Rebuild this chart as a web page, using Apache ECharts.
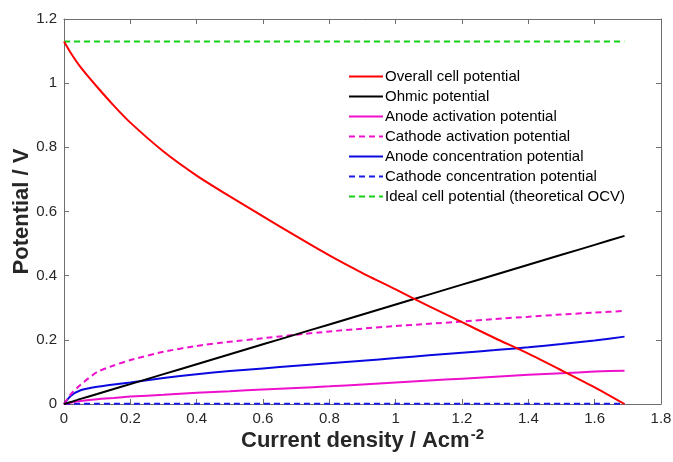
<!DOCTYPE html>
<html>
<head>
<meta charset="utf-8">
<script src="https://cdn.jsdelivr.net/npm/echarts@6/dist/echarts.min.js"></script>
<style>
  html, body { margin: 0; padding: 0; background: #fff; }
  #chart { width: 673px; height: 462px; }
</style>
</head>
<body>
<div id="chart"></div>
<script>
// Current density (A/cm^2) sample points
const currentDensity = [0, 0.02, 0.05, 0.1, 0.15, 0.2, 0.3, 0.4, 0.5, 0.6, 0.7, 0.8, 0.9, 1.0, 1.1, 1.2, 1.3, 1.4, 1.5, 1.6, 1.69];

// Potentials (V) at each current density
const overallCell = [1.13, 1.095, 1.05, 0.988, 0.93, 0.877, 0.787, 0.712, 0.647, 0.585, 0.523, 0.463, 0.408, 0.357, 0.305, 0.255, 0.205, 0.157, 0.105, 0.052, 0.0];
const ohmic = [0, 0.006, 0.016, 0.031, 0.047, 0.062, 0.093, 0.124, 0.155, 0.186, 0.217, 0.248, 0.279, 0.31, 0.341, 0.372, 0.403, 0.434, 0.465, 0.496, 0.524];
const anodeActivation = [0, 0.004, 0.009, 0.015, 0.019, 0.023, 0.029, 0.035, 0.04, 0.045, 0.05, 0.055, 0.061, 0.067, 0.073, 0.079, 0.085, 0.091, 0.096, 0.101, 0.104];
const cathodeActivation = [0, 0.03, 0.06, 0.1, 0.12, 0.137, 0.163, 0.181, 0.194, 0.205, 0.216, 0.226, 0.235, 0.243, 0.25, 0.257, 0.265, 0.272, 0.279, 0.285, 0.29];
const anodeConcentration = [0, 0.025, 0.043, 0.054, 0.061, 0.067, 0.081, 0.093, 0.103, 0.111, 0.119, 0.127, 0.135, 0.143, 0.152, 0.16, 0.168, 0.177, 0.187, 0.198, 0.21];
const cathodeConcentration = [0, 0.0005, 0.0008, 0.001, 0.001, 0.001, 0.001, 0.001, 0.001, 0.001, 0.001, 0.001, 0.001, 0.001, 0.001, 0.001, 0.001, 0.001, 0.001, 0.001, 0.001];
const idealOCV = [1.13, 1.13, 1.13, 1.13, 1.13, 1.13, 1.13, 1.13, 1.13, 1.13, 1.13, 1.13, 1.13, 1.13, 1.13, 1.13, 1.13, 1.13, 1.13, 1.13, 1.13];

const seriesNames = [
  'Overall cell potential',
  'Ohmic potential',
  'Anode activation potential',
  'Cathode activation potential',
  'Anode concentration potential',
  'Cathode concentration potential',
  'Ideal cell potential (theoretical OCV)'
];
const seriesValues = [overallCell, ohmic, anodeActivation, cathodeActivation, anodeConcentration, cathodeConcentration, idealOCV];
const seriesColors = ['#ff0000', '#000000', '#ee10cc', '#ee10cc', '#0a0ae0', '#1a1ae8', '#18d018'];
const seriesDashed = [false, false, false, true, false, true, true];

const xTicks = { min: 0, max: 1.8, interval: 0.2 };
const yTicks = { min: 0, max: 1.2, interval: 0.2 };

const font = 'Liberation Sans, Arial, sans-serif';
const axisGray = '#6e6e6e';

function pairs(ys) {
  return currentDensity.map((x, i) => [x, ys[i]]);
}

const series = seriesNames.map((name, i) => ({
  name: name,
  type: 'line',
  data: pairs(seriesValues[i]),
  showSymbol: false,
  symbol: 'none',
  smooth: 0.2,
  lineStyle: {
    color: seriesColors[i],
    width: 2,
    type: seriesDashed[i] ? [6, 4] : 'solid'
  },
  itemStyle: { color: seriesColors[i] },
  z: 10 - i
}));

function valueAxis(cfg, extra) {
  return Object.assign({
    type: 'value',
    min: cfg.min,
    max: cfg.max,
    interval: cfg.interval,
    nameMoveOverlap: false,
    axisLine: { show: true, onZero: false, lineStyle: { color: axisGray, width: 1 } },
    axisTick: { show: true, inside: true, length: 5, lineStyle: { color: axisGray } },
    splitLine: { show: false },
    axisLabel: { color: '#262626', fontFamily: font, fontSize: 15, margin: 7 }
  }, extra);
}

const chart = echarts.init(document.getElementById('chart'), null, { renderer: 'canvas' });
chart.setOption({
  animation: false,
  backgroundColor: '#ffffff',
  grid: { left: 64, top: 19, right: 12, bottom: 58, containLabel: false, outerBoundsMode: 'none' },
  legend: {
    show: true,
    orient: 'vertical',
    left: 343,
    top: 64,
    itemWidth: 34,
    itemHeight: 14,
    itemGap: 5,
    itemStyle: { opacity: 0 },
    textStyle: { color: '#000', fontFamily: font, fontSize: 15, padding: [0, 0, 0, -3] },
    data: seriesNames
  },
  xAxis: [
    valueAxis(xTicks, {
      position: 'bottom',
      name: 'Current density / Acm{sup|-2}',
      nameLocation: 'middle',
      nameGap: 23,
      nameTextStyle: {
        color: '#262626', fontFamily: font, fontSize: 22, fontWeight: 'bold',
        rich: {
          sup: { fontSize: 15, fontWeight: 'bold', fontFamily: font, color: '#262626', verticalAlign: 'top', padding: [0, 0, 12, 1] }
        }
      }
    }),
    valueAxis(xTicks, { position: 'top', axisLabel: { show: false } })
  ],
  yAxis: [
    valueAxis(yTicks, {
      position: 'left',
      name: 'Potential / V',
      nameLocation: 'middle',
      nameGap: 31,
      nameTextStyle: { color: '#262626', fontFamily: font, fontSize: 22, fontWeight: 'bold' }
    }),
    valueAxis(yTicks, { position: 'right', axisLabel: { show: false } })
  ],
  series: series
});
</script>
</body>
</html>
